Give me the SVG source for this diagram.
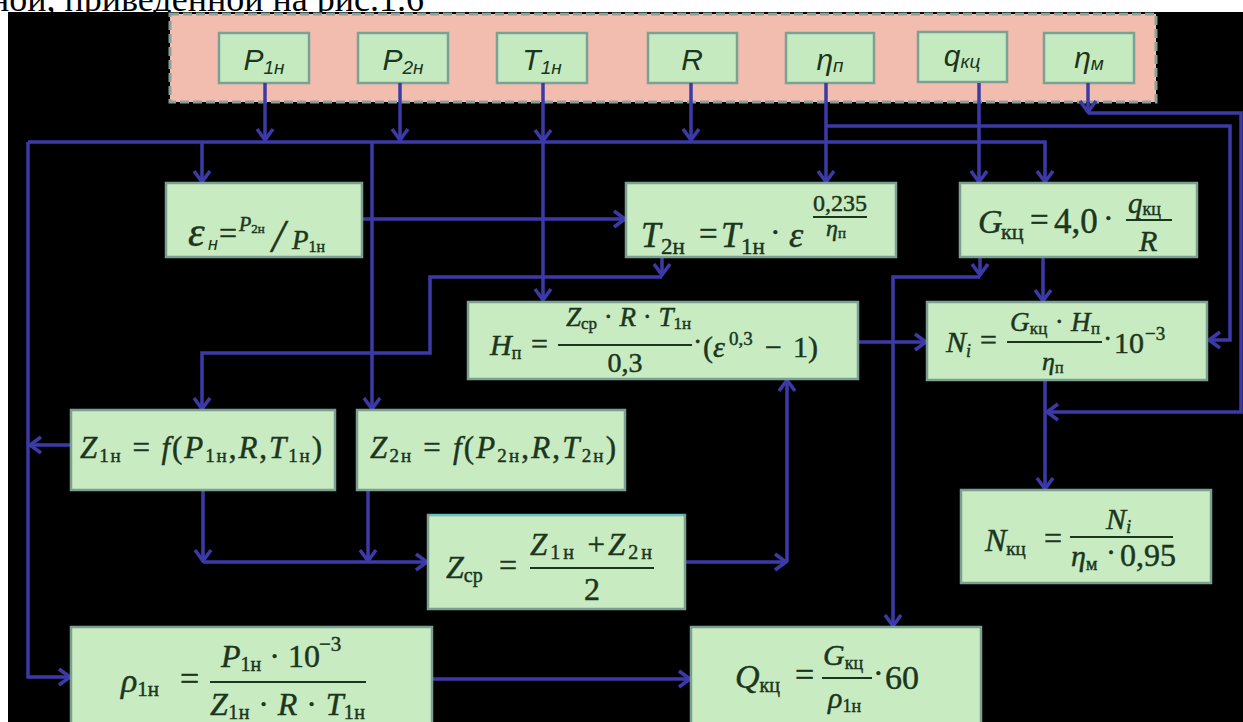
<svg xmlns="http://www.w3.org/2000/svg" width="1243" height="722" viewBox="0 0 1243 722">
<defs>
<style>
.bx{fill:#c8ebc2;stroke:#7b9f90;stroke-width:2.5}
.in{fill:#c6eac0;stroke:#7aa294;stroke-width:2.5}
.c{fill:none;stroke:#3c3aa8;stroke-width:3.5;stroke-linejoin:miter}
.a{marker-end:url(#ah)}
.m{font-family:"Liberation Serif","DejaVu Serif",serif;fill:#1b361d;stroke:#1b361d;stroke-width:0.45}
.i{font-style:italic}
.lb{font-family:"Liberation Sans","DejaVu Sans",sans-serif;font-style:italic;fill:#1b361d;text-anchor:middle}
.fl{stroke:#1b361d;stroke-width:2}
</style>
<marker id="ah" markerUnits="userSpaceOnUse" viewBox="-14 -10 16 20" refX="0" refY="0" markerWidth="16" markerHeight="20" orient="auto">
<path d="M-11,-8 L0,0 L-11,8" fill="none" stroke="#3c3aa8" stroke-width="3.5"/>
</marker>
</defs>
<rect x="0" y="0" width="1243" height="722" fill="#ffffff"/>
<text x="-10" y="11" font-family="Liberation Serif" font-size="36" fill="#000">ной, приведенной на рис.1.6</text>
<rect x="8" y="12" width="1235" height="710" fill="#000000"/>

<g id="inputs-panel">
<rect x="170" y="14" width="986" height="88" fill="#f2bcae" stroke="#86a29a" stroke-width="3" stroke-dasharray="9 4"/>
</g>
<g id="P1n"><rect class="in" x="219" y="33" width="90" height="50"/><text class="lb" x="264" y="70"><tspan font-size="30">P</tspan><tspan font-size="19" dy="4">1н</tspan></text></g>
<g id="P2n"><rect class="in" x="358" y="33" width="90" height="50"/><text class="lb" x="403" y="70"><tspan font-size="30">P</tspan><tspan font-size="19" dy="4">2н</tspan></text></g>
<g id="T1n"><rect class="in" x="497" y="33" width="90" height="50"/><text class="lb" x="542" y="70"><tspan font-size="30">T</tspan><tspan font-size="19" dy="4">1н</tspan></text></g>
<g id="R"><rect class="in" x="648" y="33" width="89" height="50"/><text class="lb" x="692" y="70" font-size="30">R</text></g>
<g id="eta_p"><rect class="in" x="786" y="33" width="88" height="50"/><text class="lb" x="830" y="70"><tspan font-size="30">η</tspan><tspan font-size="19" dy="2">п</tspan></text></g>
<g id="q_kc"><rect class="in" x="918" y="32" width="89" height="50"/><text class="lb" x="962" y="66"><tspan font-size="30">q</tspan><tspan font-size="19" dy="2">кц</tspan></text></g>
<g id="eta_m"><rect class="in" x="1044" y="33" width="90" height="50"/><text class="lb" x="1089" y="68"><tspan font-size="30">η</tspan><tspan font-size="19" dy="2">м</tspan></text></g>

<g id="connectors">
<path class="c a" d="M265,83 V140"/>
<path class="c a" d="M400,83 V140"/>
<path class="c a" d="M543,83 V141"/>
<path class="c a" d="M543,141 V300"/>
<path class="c a" d="M691,83 V140"/>
<path class="c a" d="M28,142 H1045 V182"/>
<path class="c a" d="M28,142 V677 H70"/>
<path class="c a" d="M202,142 V182"/>
<path class="c a" d="M372,142 V409"/>
<path class="c a" d="M826,83 V182"/>
<path class="c a" d="M826,126 H1230 V340 H1209"/>
<path class="c a" d="M979,83 V182"/>
<path class="c a" d="M1088,83 V112"/>
<path class="c a" d="M1088,113 H1241 V412 H1047"/>
<path class="c a" d="M362,219 H625"/>
<path class="c a" d="M662,257 V275"/>
<path class="c a" d="M662,277 H430 V353 H202 V409"/>
<path class="c a" d="M980,257 V275"/>
<path class="c a" d="M980,277 H893 V626"/>
<path class="c a" d="M1043,257 V301"/>
<path class="c a" d="M858,342 H926"/>
<path class="c a" d="M1045,380 V489"/>
<path class="c a" d="M71,445 H30"/>
<path class="c a" d="M203,490 V561"/>
<path class="c a" d="M203,562 H427"/>
<path class="c a" d="M368,490 V561"/>
<path class="c a" d="M685,562 H786"/>
<path class="c a" d="M787,562 V380"/>
<path class="c a" d="M432,679 H690"/>
</g>

<g id="eps">
<rect class="bx" x="166" y="183" width="196" height="74"/>
<text class="m i" x="188" y="246" font-size="42">ε</text>
<text class="lb" x="213" y="250" font-size="18">н</text>
<text class="m" x="219" y="244" font-size="32">=</text>
<text class="m i" x="239" y="231" font-size="20">P<tspan font-style="normal" font-size="13" dy="2">2н</tspan></text>
<text class="m i" x="272" y="252" font-size="46">/</text>
<text class="m i" x="292" y="249" font-size="27">P<tspan font-style="normal" font-size="16" dy="3">1н</tspan></text>
</g>

<g id="T2n">
<rect class="bx" x="626" y="183" width="270" height="74"/>
<text class="m i" x="641" y="247" font-size="35">T</text>
<text class="m" x="661" y="254" font-size="23">2н</text>
<text class="m" x="699" y="245" font-size="33">=</text>
<text class="m i" x="721" y="247" font-size="35">T</text>
<text class="m" x="741" y="254" font-size="23">1н</text>
<text class="m" x="770" y="243" font-size="32">·</text>
<text class="m i" x="789" y="247" font-size="36">ε</text>
<text class="m" x="840" y="211" font-size="24" text-anchor="middle">0,235</text>
<line class="fl" x1="813" y1="217" x2="867" y2="217"/>
<text class="m i" x="826" y="236" font-size="24">η<tspan font-style="normal" font-size="15" dy="2">п</tspan></text>
</g>

<g id="Gkc">
<rect class="bx" x="960" y="183" width="237" height="74"/>
<text class="m i" x="978" y="233" font-size="34">G</text>
<text class="m" x="1001" y="239" font-size="22">кц</text>
<text class="m" x="1030" y="231" font-size="33">=</text>
<text class="m" x="1054" y="233" font-size="35">4,0</text>
<text class="m" x="1103" y="229" font-size="32">·</text>
<text class="m i" x="1128" y="213" font-size="29">q<tspan font-style="normal" font-size="18" dy="2">кц</tspan></text>
<line class="fl" x1="1126" y1="220" x2="1172" y2="220"/>
<text class="m i" x="1139" y="251" font-size="30">R</text>
</g>

<g id="Hp">
<rect class="bx" x="468" y="302" width="390" height="77"/>
<text class="m i" x="490" y="355" font-size="30">H<tspan font-style="normal" font-size="18" dy="4">п</tspan></text>
<text class="m" x="531" y="354" font-size="30">=</text>
<text class="m i" x="566" y="326" font-size="27" textLength="125">Z<tspan font-style="normal" font-size="17" dy="3">ср</tspan><tspan font-style="normal" dy="-3"> · </tspan>R<tspan font-style="normal"> · </tspan>T<tspan font-style="normal" font-size="17" dy="3">1н</tspan></text>
<line class="fl" x1="558" y1="345" x2="692" y2="345"/>
<text class="m" x="625" y="372" font-size="28" text-anchor="middle">0,3</text>
<text class="m" x="693" y="351" font-size="28">·</text>
<text class="m" x="703" y="357" font-size="30">(</text>
<text class="m i" x="713" y="357" font-size="30">ε</text>
<text class="m" x="729" y="345" font-size="19">0,3</text>
<text class="m" x="765" y="357" font-size="30">−</text>
<text class="m" x="793" y="357" font-size="30">1)</text>
</g>

<g id="Ni">
<rect class="bx" x="927" y="302" width="280" height="78"/>
<text class="m i" x="946" y="352" font-size="30">N<tspan font-size="18" dy="5">i</tspan></text>
<text class="m" x="980" y="350" font-size="30">=</text>
<text class="m i" x="1010" y="331" font-size="27" textLength="90">G<tspan font-style="normal" font-size="17" dy="3">кц</tspan><tspan font-style="normal" dy="-3"> · </tspan>H<tspan font-style="normal" font-size="17" dy="3">п</tspan></text>
<line class="fl" x1="1007" y1="342" x2="1102" y2="342"/>
<text class="m i" x="1042" y="370" font-size="26">η<tspan font-style="normal" font-size="16" dy="3">п</tspan></text>
<text class="m" x="1103" y="348" font-size="28">·</text>
<text class="m" x="1114" y="353" font-size="30">10</text>
<text class="m" x="1145" y="340" font-size="19">−3</text>
</g>

<g id="Z1n">
<rect class="bx" x="71" y="410" width="264" height="80"/>
<text class="m i" x="80" y="458" font-size="31" textLength="242">Z<tspan font-style="normal" font-size="19" dy="4">1н</tspan><tspan font-style="normal" dy="-4"> = </tspan>f<tspan font-style="normal">(</tspan>P<tspan font-style="normal" font-size="19" dy="4">1н</tspan><tspan font-style="normal" dy="-4">,</tspan>R<tspan font-style="normal">,</tspan>T<tspan font-style="normal" font-size="19" dy="4">1н</tspan><tspan font-style="normal" dy="-4">)</tspan></text>
</g>

<g id="Z2n">
<rect class="bx" x="357" y="410" width="268" height="80"/>
<text class="m i" x="370" y="458" font-size="31" textLength="246">Z<tspan font-style="normal" font-size="19" dy="4">2н</tspan><tspan font-style="normal" dy="-4"> = </tspan>f<tspan font-style="normal">(</tspan>P<tspan font-style="normal" font-size="19" dy="4">2н</tspan><tspan font-style="normal" dy="-4">,</tspan>R<tspan font-style="normal">,</tspan>T<tspan font-style="normal" font-size="19" dy="4">2н</tspan><tspan font-style="normal" dy="-4">)</tspan></text>
</g>

<g id="Zcp">
<rect class="bx" x="428" y="515" width="257" height="94"/>
<line x1="430" y1="515" x2="683" y2="515" stroke="#5cc6c8" stroke-width="2"/>
<text class="m i" x="446" y="578" font-size="32">Z<tspan font-style="normal" font-size="20" dy="4">ср</tspan></text>
<text class="m" x="499" y="576" font-size="32">=</text>
<text class="m i" x="530" y="555" font-size="31" textLength="122">Z<tspan font-style="normal" font-size="20" dy="4">1н</tspan><tspan font-style="normal" dy="-4"> +</tspan>Z<tspan font-style="normal" font-size="20" dy="4">2н</tspan></text>
<line class="fl" x1="530" y1="568" x2="654" y2="568"/>
<text class="m" x="592" y="600" font-size="32" text-anchor="middle">2</text>
</g>

<g id="Nkc">
<rect class="bx" x="961" y="490" width="250" height="93"/>
<text class="m i" x="985" y="551" font-size="32">N<tspan font-style="normal" font-size="19" dy="4">кц</tspan></text>
<text class="m" x="1044" y="549" font-size="32">=</text>
<text class="m i" x="1106" y="529" font-size="30">N<tspan font-size="19" dy="4">i</tspan></text>
<line class="fl" x1="1070" y1="537" x2="1173" y2="537"/>
<text class="m i" x="1071" y="566" font-size="30">η<tspan font-style="normal" font-size="18" dy="4">м</tspan></text>
<text class="m" x="1106" y="562" font-size="30">·</text>
<text class="m" x="1120" y="566" font-size="32">0,95</text>
</g>

<g id="rho">
<rect class="bx" x="71" y="627" width="361" height="110"/>
<text class="m i" x="121" y="692" font-size="34">ρ<tspan font-style="normal" font-size="21" dy="4">1н</tspan></text>
<text class="m" x="180" y="690" font-size="34">=</text>
<text class="m i" x="221" y="667" font-size="32">P<tspan font-style="normal" font-size="20" dy="4">1н</tspan><tspan font-style="normal" dy="-4"> · 10</tspan></text>
<text class="m" x="319" y="651" font-size="21">−3</text>
<line class="fl" x1="210" y1="682" x2="366" y2="682"/>
<text class="m i" x="210" y="715" font-size="32" textLength="155">Z<tspan font-style="normal" font-size="20" dy="4">1н</tspan><tspan font-style="normal" dy="-4"> · </tspan>R<tspan font-style="normal"> · </tspan>T<tspan font-style="normal" font-size="20" dy="4">1н</tspan></text>
</g>

<g id="Qkc">
<rect class="bx" x="691" y="627" width="290" height="110"/>
<text class="m i" x="735" y="688" font-size="34">Q<tspan font-style="normal" font-size="20" dy="4">кц</tspan></text>
<text class="m" x="795" y="686" font-size="34">=</text>
<text class="m i" x="823" y="665" font-size="30">G<tspan font-style="normal" font-size="18" dy="4">кц</tspan></text>
<line class="fl" x1="822" y1="678" x2="872" y2="678"/>
<text class="m i" x="828" y="708" font-size="30">ρ<tspan font-style="normal" font-size="18" dy="4">1н</tspan></text>
<text class="m" x="873" y="684" font-size="32">·</text>
<text class="m" x="885" y="689" font-size="34">60</text>
</g>
</svg>
